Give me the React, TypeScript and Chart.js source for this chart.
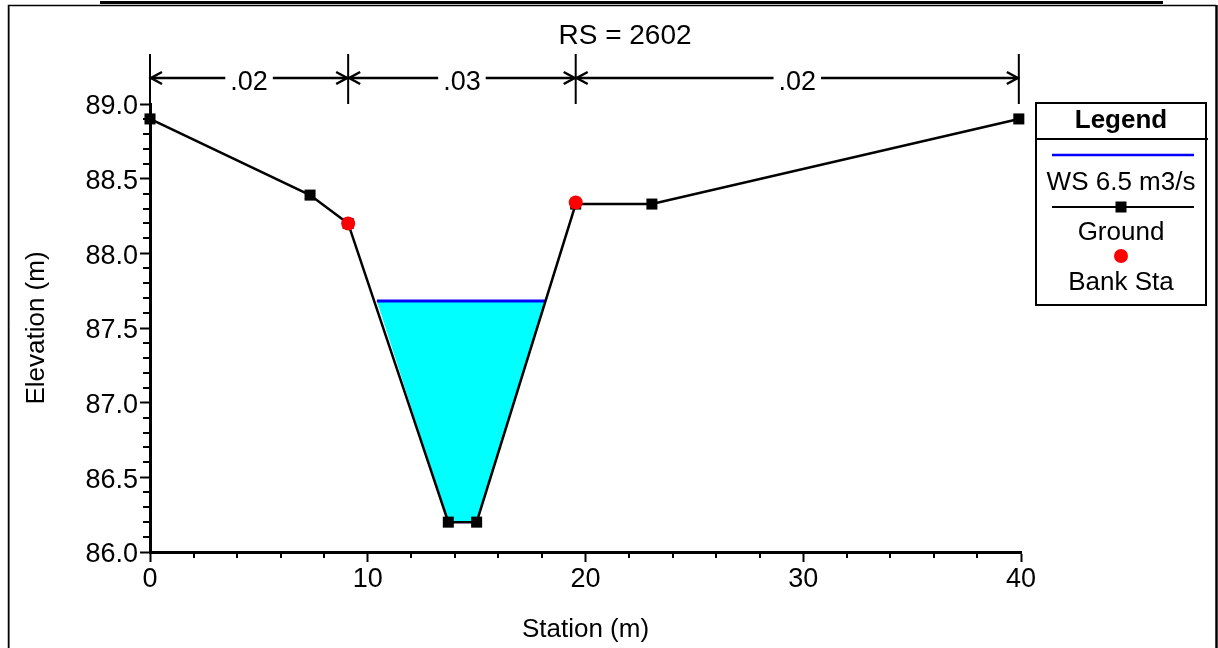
import React, { useEffect, useRef } from 'react';
import { Chart, registerables } from 'chart.js';

Chart.register(...registerables);

// ---- data ----
const groundStations = [0, 7.35, 9.1, 13.7, 15.0, 19.55, 23.05, 39.9];
const groundElevations = [88.9, 88.39, 88.2, 86.2, 86.2, 88.33, 88.33, 88.9];
const bankStations = [9.1, 19.55];
const bankElevations = [88.2, 88.34];
const wsStations = [10.42, 18.14];
const wsElevation = 87.68;
const nValues = ['.02', '.03', '.02'];
const chartTitle = 'RS = 2602';
const xTickValues = [0, 10, 20, 30, 40];
const yTickValues = [86.0, 86.5, 87.0, 87.5, 88.0, 88.5, 89.0];
const xMinorStep = 2;
const yMinorStep = 0.1;
const legendTitle = 'Legend';

const FONT = "'Liberation Sans', Arial, sans-serif";

const groundPts = groundStations.map((x, i) => ({ x, y: groundElevations[i] }));
const bankPts = bankStations.map((x, i) => ({ x, y: bankElevations[i] }));
const wsLinePts = wsStations.map((x) => ({ x, y: wsElevation }));
const waterPolygon = [
  { x: wsStations[0], y: wsElevation },
  ...groundPts.filter((p) => p.x > wsStations[0] && p.x < wsStations[1]),
  { x: wsStations[1], y: wsElevation },
];

const decorPlugin = {
  id: 'decor',
  beforeDraw(chart: any) {
    const { ctx, width, height } = chart;
    ctx.save();
    ctx.fillStyle = '#fff';
    ctx.fillRect(0, 0, width, height);
    ctx.restore();
  },
  afterDraw(chart: any) {
    const { ctx, chartArea } = chart;
    const xs = chart.scales.x;
    const ys = chart.scales.y;
    ctx.save();

    // page artefacts: top bar and outer frame
    ctx.fillStyle = '#000';
    ctx.fillRect(100, 1, 1063, 3);
    ctx.strokeStyle = '#999';
    ctx.lineWidth = 1;
    ctx.beginPath();
    ctx.moveTo(9.5, 6.5);
    ctx.lineTo(9.5, 648);
    ctx.stroke();
    ctx.strokeStyle = '#000';
    ctx.lineWidth = 1.5;
    ctx.beginPath();
    ctx.moveTo(8.5, 648);
    ctx.lineTo(8.5, 5.5);
    ctx.lineTo(1216, 5.5);
    ctx.stroke();
    ctx.lineWidth = 2.5;
    ctx.beginPath();
    ctx.moveTo(1216.5, 5);
    ctx.lineTo(1216.5, 648);
    ctx.stroke();

    // title
    ctx.fillStyle = '#000';
    ctx.font = `28px ${FONT}`;
    ctx.textAlign = 'center';
    ctx.textBaseline = 'middle';
    ctx.fillText(chartTitle, 625, 36);

    // minor ticks
    ctx.strokeStyle = '#000';
    ctx.lineWidth = 2;
    ctx.beginPath();
    for (let v = ys.min; v <= ys.max + 1e-9; v += yMinorStep) {
      const r = Math.round(v * 10) / 10;
      if (Math.abs(r * 2 - Math.round(r * 2)) < 1e-6) continue;
      const py = Math.round(ys.getPixelForValue(r));
      ctx.moveTo(chartArea.left - 7, py);
      ctx.lineTo(chartArea.left, py);
    }
    for (let v = xs.min; v <= xs.max + 1e-9; v += xMinorStep) {
      if (v % 10 === 0) continue;
      const px = Math.round(xs.getPixelForValue(v));
      ctx.moveTo(px, chartArea.bottom);
      ctx.lineTo(px, chartArea.bottom + 6);
    }
    ctx.stroke();

    // Manning's n boundaries
    const bounds = [groundStations[0], ...bankStations, groundStations[groundStations.length - 1]];
    const bpx = bounds.map((b) => xs.getPixelForValue(b));
    const yTop = 54;
    const yArrow = 78;
    ctx.lineWidth = 2;
    ctx.beginPath();
    bpx.forEach((px) => {
      ctx.moveTo(px, yTop);
      ctx.lineTo(px, chartArea.top);
    });
    ctx.stroke();
    ctx.lineWidth = 2.5;
    ctx.beginPath();
    ctx.moveTo(bpx[0], yArrow);
    ctx.lineTo(bpx[bpx.length - 1], yArrow);
    ctx.stroke();
    const head = (tipX: number, dir: number) => {
      ctx.beginPath();
      ctx.moveTo(tipX + dir * 11, yArrow - 6);
      ctx.lineTo(tipX, yArrow);
      ctx.lineTo(tipX + dir * 11, yArrow + 6);
      ctx.stroke();
    };
    for (let i = 0; i < bpx.length - 1; i++) {
      head(bpx[i] + 1, 1);
      head(bpx[i + 1] - 1, -1);
    }
    ctx.font = `27px ${FONT}`;
    nValues.forEach((n, i) => {
      const cx = (bpx[i] + bpx[i + 1]) / 2;
      const w = ctx.measureText(n).width;
      ctx.fillStyle = '#fff';
      ctx.fillRect(cx - w / 2 - 5, yArrow - 4, w + 10, 8);
      ctx.fillStyle = '#000';
      ctx.fillText(n, cx, yArrow + 5);
    });

    // legend box
    const ds = chart.data.datasets;
    const lx = 1036, ly = 103, lw = 170, lh = 202;
    const cx = lx + lw / 2;
    ctx.fillStyle = '#fff';
    ctx.fillRect(lx, ly, lw, lh);
    ctx.strokeStyle = '#000';
    ctx.lineWidth = 2;
    ctx.strokeRect(lx, ly, lw, lh);
    ctx.beginPath();
    ctx.moveTo(lx, 139);
    ctx.lineTo(lx + lw + 2, 139);
    ctx.stroke();
    ctx.fillStyle = '#000';
    ctx.font = `bold 26px ${FONT}`;
    ctx.fillText(legendTitle, cx, 121);
    ctx.font = `26px ${FONT}`;
    // WS
    ctx.strokeStyle = ds[1].borderColor;
    ctx.lineWidth = 2.5;
    ctx.beginPath();
    ctx.moveTo(1052, 155);
    ctx.lineTo(1194, 155);
    ctx.stroke();
    ctx.fillText(ds[1].label, cx, 183);
    // Ground
    ctx.strokeStyle = '#000';
    ctx.lineWidth = 2;
    ctx.beginPath();
    ctx.moveTo(1052, 207);
    ctx.lineTo(1194, 207);
    ctx.stroke();
    ctx.fillRect(cx - 5.5, 201.5, 11, 11);
    ctx.fillText(ds[2].label, cx, 233);
    // Bank
    ctx.fillStyle = ds[3].backgroundColor;
    ctx.beginPath();
    ctx.arc(cx, 256, 7, 0, Math.PI * 2);
    ctx.fill();
    ctx.fillStyle = '#000';
    ctx.fillText(ds[3].label, cx, 283);

    ctx.restore();
  },
};

export default function App() {
  const ref = useRef<HTMLCanvasElement | null>(null);

  useEffect(() => {
    if (!ref.current) return;
    Chart.defaults.font.family = FONT;
    Chart.defaults.color = '#000';
    const chart = new Chart(ref.current, {
      type: 'scatter',
      data: {
        datasets: [
          {
            label: 'water',
            data: waterPolygon,
            showLine: true,
            fill: 'shape',
            backgroundColor: '#00ffff',
            borderWidth: 0,
            borderColor: 'rgba(0,0,0,0)',
            pointRadius: 0,
            order: 4,
          },
          {
            label: 'WS 6.5 m3/s',
            data: wsLinePts,
            showLine: true,
            borderColor: '#0000ff',
            borderWidth: 3,
            pointRadius: 0,
            order: 3,
          },
          {
            label: 'Ground',
            data: groundPts,
            showLine: true,
            borderColor: '#000',
            borderWidth: 2.5,
            backgroundColor: '#000',
            pointStyle: 'rect',
            pointRadius: 7.8,
            pointBorderWidth: 0,
            clip: false,
            order: 2,
          },
          {
            label: 'Bank Sta',
            data: bankPts,
            showLine: false,
            backgroundColor: '#ff0000',
            borderColor: '#ff0000',
            pointStyle: 'circle',
            pointRadius: 7,
            pointBorderWidth: 0,
            clip: false,
            order: 1,
          },
        ],
      },
      options: {
        animation: false,
        responsive: true,
        maintainAspectRatio: false,
        events: [],
        layout: { padding: { left: 0, top: 104, right: 197, bottom: 0 } },
        plugins: {
          legend: { display: false },
          tooltip: { enabled: false },
          title: { display: false },
        },
        scales: {
          x: {
            type: 'linear',
            min: 0,
            max: 40,
            afterBuildTicks: (s: any) => {
              s.ticks = xTickValues.map((value) => ({ value }));
            },
            afterFit: (s: any) => {
              s.height = 96;
            },
            ticks: {
              font: { size: 27 },
              color: '#000',
              padding: 1,
              maxRotation: 0,
              callback: (v: any) => String(v),
            },
            grid: {
              drawOnChartArea: false,
              drawTicks: true,
              tickLength: 10,
              tickWidth: 2,
              tickColor: '#000',
              color: '#000',
            },
            border: { display: true, color: '#000', width: 3 },
            title: {
              display: true,
              text: 'Station (m)',
              font: { size: 26 },
              color: '#000',
              padding: { top: 0, bottom: 3 },
            },
          },
          y: {
            type: 'linear',
            min: 86,
            max: 89,
            afterBuildTicks: (s: any) => {
              s.ticks = yTickValues.map((value) => ({ value }));
            },
            afterFit: (s: any) => {
              s.width = 150;
            },
            ticks: {
              font: { size: 27 },
              color: '#000',
              padding: 2,
              labelOffset: 3,
              callback: (v: any) => Number(v).toFixed(1),
            },
            grid: {
              drawOnChartArea: false,
              drawTicks: true,
              tickLength: 10,
              tickWidth: 2,
              tickColor: '#000',
              color: '#000',
            },
            border: { display: true, color: '#000', width: 3 },
            title: {
              display: true,
              text: 'Elevation (m)',
              font: { size: 26 },
              color: '#000',
              padding: { top: 21, bottom: 0 },
            },
          },
        },
      },
      plugins: [decorPlugin],
    });
    return () => chart.destroy();
  }, []);

  return (
    <div style={{ position: 'fixed', left: 0, top: 0, width: 1218, height: 648, background: '#fff' }}>
      <canvas ref={ref} />
    </div>
  );
}
